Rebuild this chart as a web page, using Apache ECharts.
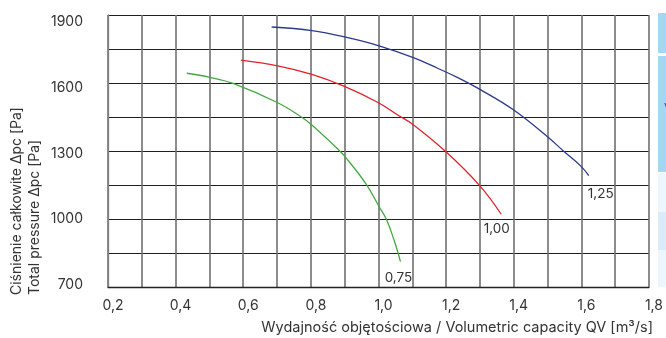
<!DOCTYPE html>
<html>
<head>
<meta charset="utf-8">
<script src="https://cdn.jsdelivr.net/npm/echarts@6/dist/echarts.min.js"></script>
<style>
  html, body { margin: 0; padding: 0; background: #fff; }
  #chart { width: 666px; height: 338px; }
</style>
</head>
<body>
<div id="chart"></div>
<script>
// grid lines and tick labels
const xTicks = [0.2, 0.3, 0.4, 0.5, 0.6, 0.7, 0.8, 0.9, 1.0, 1.1, 1.2, 1.3, 1.4, 1.5, 1.6, 1.7, 1.8];
const xLabels = [0.2, 0.4, 0.6, 0.8, 1.0, 1.2, 1.4, 1.6, 1.8];
const yTicks = [700, 850, 1000, 1150, 1300, 1450, 1600, 1750, 1900];
const yLabels = [700, 1000, 1300, 1600, 1900];

// fan curves: volumetric capacity [m3/s] vs total pressure [Pa]
const blueQ = [0.684, 0.803, 0.903, 1.004, 1.101, 1.175, 1.233, 1.300, 1.400, 1.500, 1.547, 1.600, 1.622];
const blueP = [1847, 1831, 1802, 1763, 1713, 1665, 1625, 1572, 1481, 1363, 1300, 1231, 1191];
const redQ = [0.593, 0.702, 0.803, 0.901, 1.000, 1.057, 1.101, 1.202, 1.300, 1.363];
const redP = [1701, 1676, 1638, 1584, 1513, 1459, 1418, 1293, 1146, 1021];
const greenQ = [0.433, 0.502, 0.568, 0.702, 0.773, 0.803, 0.881, 0.901, 0.964, 1.002, 1.023, 1.046, 1.065];
const greenP = [1643, 1625, 1599, 1513, 1449, 1415, 1307, 1275, 1153, 1054, 1000, 907, 812];

const FONT = "Inter, 'Noto Sans', sans-serif";
const TEXT = "#333";

function curve(q, p, name, color, labelPos) {
  const data = q.map((v, i) => [v, p[i]]);
  const last = data.length - 1;
  data[last] = {
    value: data[last],
    label: {
      show: true,
      formatter: name,
      position: labelPos,
      align: "center",
      verticalAlign: "middle",
      color: TEXT,
      fontFamily: FONT,
      fontSize: 13.5,
    },
  };
  return {
    type: "line",
    name: name,
    data: data,
    smooth: 0.4,
    symbol: "circle",
    symbolSize: 0,
    showSymbol: true,
    lineStyle: { color: color, width: 1.3 },
    itemStyle: { color: color },
    silent: true,
  };
}

const chart = echarts.init(document.getElementById("chart"), null, { renderer: "canvas" });
chart.setOption({
  animation: false,
  grid: { left: 108, top: 15, right: 13, bottom: 51 },
  xAxis: {
    type: "value",
    min: 0.2,
    max: 1.8,
    name: "Wydajność objętościowa / Volumetric capacity QV [m³/s]",
    nameLocation: "end",
    nameGap: 4,
    nameTextStyle: {
      align: "right",
      verticalAlign: "top",
      padding: [33, 0, 0, 0],
      color: TEXT,
      fontFamily: FONT,
      fontSize: 14.5,
    },
    axisLine: { show: true, lineStyle: { color: "#222", width: 1.3 } },
    axisTick: { show: false, customValues: xTicks },
    axisLabel: {
      customValues: xLabels,
      formatter: (v) => v.toFixed(1).replace(".", ","),
      margin: 12,
      padding: [0, 0, 0, 10],
      color: TEXT,
      fontFamily: FONT,
      fontSize: 14,
    },
    splitLine: { show: true, lineStyle: { color: "#707070", width: 1.6 } },
  },
  yAxis: [
    {
      type: "value",
      min: 700,
      max: 1900,
      name: "Ciśnienie całkowite Δpc [Pa]\nTotal pressure Δpc [Pa]",
      nameLocation: "start",
      nameGap: 8,
      nameRotate: 90,
      nameTextStyle: {
        align: "left",
        verticalAlign: "bottom",
        padding: [0, 0, 64, 0],
        color: TEXT,
        fontFamily: FONT,
        fontSize: 14,
        lineHeight: 18,
      },
      axisLine: { show: true, lineStyle: { color: "#808080", width: 1.3 } },
      axisTick: { show: false, customValues: yTicks },
      axisLabel: { show: false },
      splitLine: { show: true, lineStyle: { color: "#1e1e1e", width: 1.2 } },
    },
    {
      // label-only axis: the printed tick labels sit slightly below their lines
      type: "value",
      position: "left",
      min: 692,
      max: 1929,
      axisLine: { show: false },
      axisTick: { show: false },
      splitLine: { show: false },
      axisLabel: {
        customValues: yLabels,
        formatter: (v) => String(v),
        margin: 25,
        color: TEXT,
        fontFamily: FONT,
        fontSize: 14,
      },
    },
  ],
  graphic: [
    { type: "rect", shape: { x: 658, y: 13, width: 8, height: 40 }, style: { fill: "#a5d7f4" } },
    { type: "rect", shape: { x: 658, y: 56, width: 8, height: 116 }, style: { fill: "#a5d7f4" } },
    { type: "rect", shape: { x: 658, y: 173, width: 8, height: 39 }, style: { fill: "#eef6fd" } },
    { type: "rect", shape: { x: 658, y: 212, width: 8, height: 38 }, style: { fill: "#dcebf8" } },
    { type: "rect", shape: { x: 658, y: 250, width: 8, height: 37 }, style: { fill: "#eef6fd" } },
    { type: "text", x: 664, y: 103, style: { text: "V", fill: "#555", font: "13px " + FONT } },
  ],
  series: [
    curve(blueQ, blueP, "1,25", "#2b3a8c", [12, 18]),
    curve(redQ, redP, "1,00", "#e3232b", [-4.5, 15]),
    curve(greenQ, greenP, "0,75", "#43a843", [-2, 16]),
  ],
});
</script>
</body>
</html>
